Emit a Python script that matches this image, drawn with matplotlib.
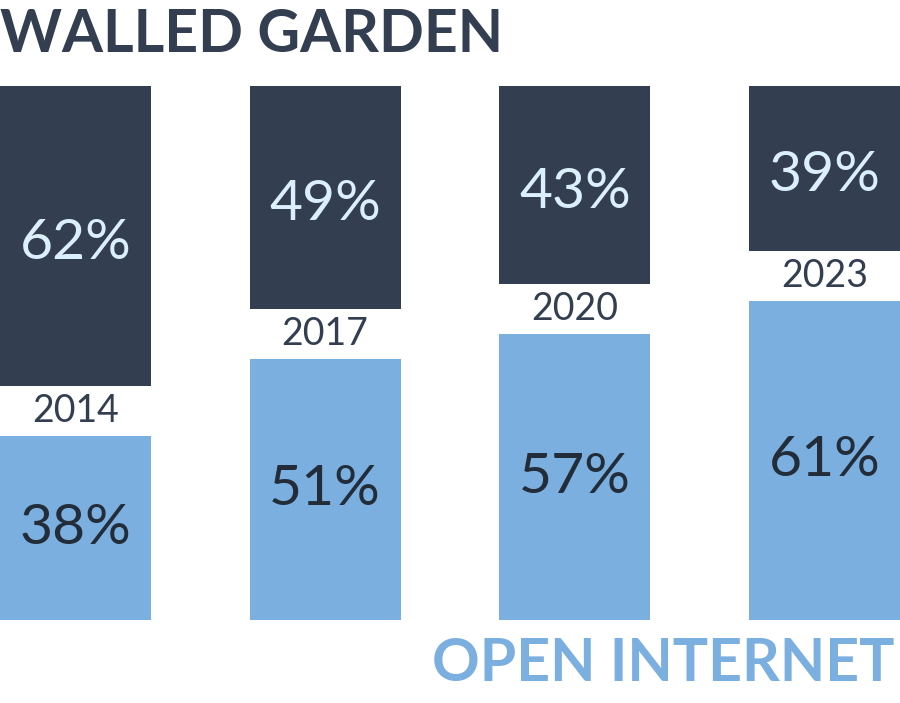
import matplotlib.pyplot as plt

years = ['2014', '2017', '2020', '2023']
walled_labels = [62, 49, 43, 39]
open_labels = [38, 51, 57, 61]
# bar heights as drawn in the picture (they differ a bit from the labels)
walled_heights = [62, 46, 41, 34]
open_heights = [38, 54, 59, 66]

DARK = '#333f51'
BLUE = '#7aafdf'
PALE = '#dceffc'
INK = '#232c39'
GAP = 10.33
WIDTH = 0.605


def draw_chart():
    fig = plt.figure(figsize=(9, 7.03), dpi=100)
    ax = fig.add_axes([0, 0, 1, 1])
    ax.set_xlim(-0.3024, 3.3024)
    ax.set_ylim(-17.15, 128.1)
    ax.axis('off')

    x = list(range(len(years)))
    ax.bar(x, open_heights, width=WIDTH, color=BLUE)
    tops = [h + GAP for h in open_heights]
    ax.bar(x, walled_heights, width=WIDTH, bottom=tops, color=DARK)

    for i in x:
        ax.text(i, open_heights[i] / 2, f'{open_labels[i]}%', ha='center', va='center',
                fontsize=41, color=INK, family='Lato')
        ax.text(i, tops[i] + walled_heights[i] / 2 - 1.5, f'{walled_labels[i]}%', ha='center',
                va='center', fontsize=41, color=PALE, family='Lato')
        ax.text(i, open_heights[i] + GAP / 2, years[i], ha='center', va='center',
                fontsize=27, color=DARK, family='Lato')

    fig.text(0.0, 1 - 52 / 703, 'WALLED GARDEN', ha='left', va='baseline',
             fontsize=42.5, fontweight='bold', color=DARK, family='Lato')
    fig.text(895 / 900, 1 - 681 / 703, 'OPEN INTERNET', ha='right', va='baseline',
             fontsize=42.5, fontweight='bold', color=BLUE, family='Lato')

    save_chart_as_image('out.png')


def save_chart_as_image(path):
    plt.savefig(path, dpi=100)
    plt.close()


if __name__ == '__main__':
    draw_chart()
